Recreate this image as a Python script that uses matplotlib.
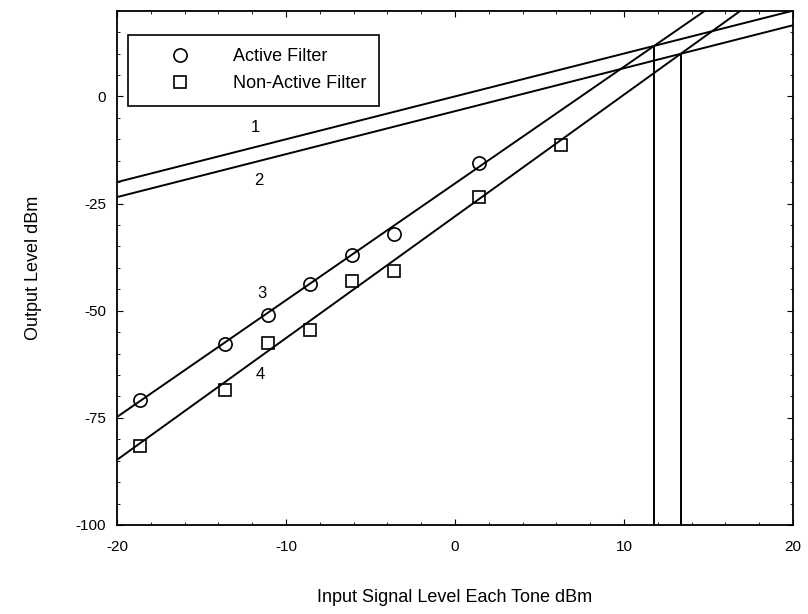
import matplotlib
matplotlib.use("Agg")
import matplotlib.pyplot as plt
from matplotlib.ticker import MultipleLocator
import numpy as np

# data
active_x = [-18.64, -13.6, -11.07, -8.58, -6.09, -3.6, 1.42]
active_y = [-70.9, -57.8, -51.0, -43.8, -37.1, -32.2, -15.6]
nonactive_x = [-18.64, -13.6, -11.07, -8.58, -6.09, -3.6, 1.42, 6.3]
nonactive_y = [-81.6, -68.5, -57.6, -54.5, -43.1, -40.8, -23.5, -11.4]

line1_x = [-20, 20]; line1_y = [-20.0, 20.0]
line2_x = [-20, 20]; line2_y = [-23.5, 16.6]
line3_x = [-20, 14.8]; line3_y = [-74.8, 20.0]
line4_x = [-20, 16.9]; line4_y = [-84.8, 20.0]

intercept_x = [11.78, 13.35]
intercept_y = [11.78, 9.9]

label_txt = ["1", "2", "3", "4"]
label_x = [-11.8, -11.6, -11.4, -11.5]
label_y = [-7.2, -19.6, -45.9, -65.0]

xticks = [-20, -10, 0, 10, 20]
yticks = [-100, -75, -50, -25, 0]

plt.rcParams['font.family'] = ['Liberation Sans', 'DejaVu Sans']
plt.rcParams['axes.unicode_minus'] = False

fig = plt.figure(figsize=(8.08, 6.14), dpi=100)
ax = fig.add_axes([0.1448, 0.145, 0.9814 - 0.1448, 0.9826 - 0.145])

lw = 1.4
for xs, ys in [(line1_x, line1_y), (line2_x, line2_y), (line3_x, line3_y), (line4_x, line4_y)]:
    ax.plot(xs, ys, color='black', lw=lw, solid_capstyle='butt')
for xi, yi in zip(intercept_x, intercept_y):
    ax.plot([xi, xi], [-100, yi], color='black', lw=lw)

ax.plot(active_x, active_y, 'o', ms=9.5, mfc='none', mec='black', mew=1.2, label='Active Filter')
ax.plot(nonactive_x, nonactive_y, 's', ms=9, mfc='none', mec='black', mew=1.2, label='Non-Active Filter')

for t, x, y in zip(label_txt, label_x, label_y):
    ax.text(x, y, t, fontsize=12, ha='center', va='center')

ax.set_xlim(-20, 20)
ax.set_ylim(-100, 20)
ax.set_xticks(xticks)
ax.set_yticks(yticks)
ax.xaxis.set_minor_locator(MultipleLocator(2))
ax.yaxis.set_minor_locator(MultipleLocator(5))
ax.tick_params(which='both', direction='in', top=True, right=True, labelsize=11)
ax.tick_params(which='major', length=4)
ax.tick_params(axis='x', which='major', pad=11)
ax.tick_params(axis='y', which='major', pad=8)
ax.tick_params(which='minor', length=2.5)
for s in ax.spines.values():
    s.set_linewidth(1.3)

ax.set_xlabel('Input Signal Level Each Tone dBm', fontsize=13, labelpad=25)
ax.set_ylabel('Output Level dBm', fontsize=13, labelpad=24)

leg = ax.legend(loc='upper left', bbox_to_anchor=(0.016, 0.953), fontsize=13,
                frameon=True, fancybox=False, edgecolor='black', framealpha=1,
                handletextpad=0.75, borderpad=0.75, borderaxespad=0,
                handlelength=4.3, labelspacing=0.55)
leg.get_frame().set_linewidth(1.2)

fig.savefig('out.png', dpi=100)
